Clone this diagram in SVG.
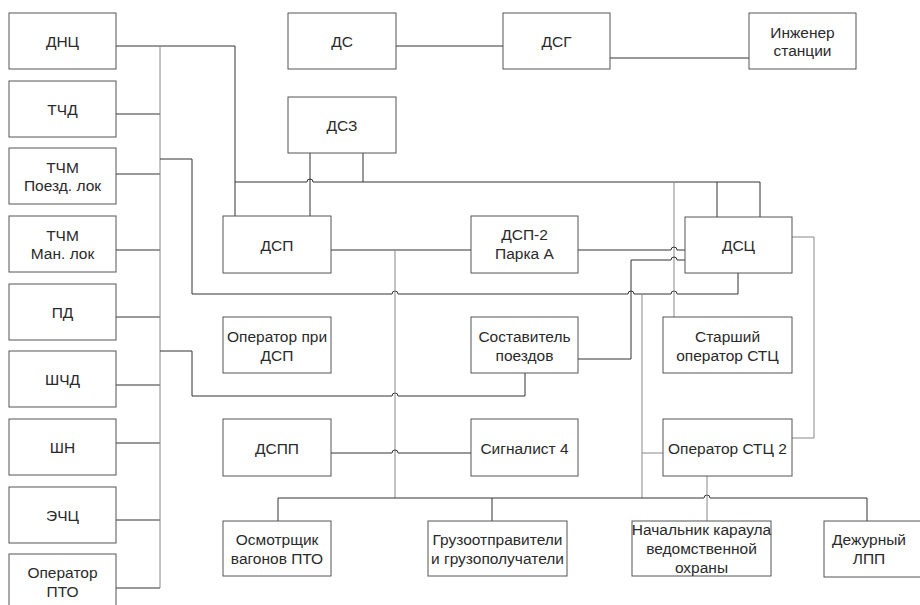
<svg xmlns="http://www.w3.org/2000/svg" width="920" height="605" viewBox="0 0 920 605">
<style>
.b{fill:#fff;stroke:#555;stroke-width:1}
.t{font-family:"Liberation Sans",Arial,sans-serif;font-size:15.5px;fill:#2a2a2a;text-anchor:middle}
.c{fill:none;stroke:#333;stroke-width:1}
.l{fill:none;stroke:#888;stroke-width:1}
</style>
<rect width="920" height="605" fill="#fff"/>
<g id="connectors">
<path class="c" d="M116,46 H235 V216"/>
<path class="c" d="M116,114 H160 M116,174 H160 M116,250 H160 M116,317 H160 M116,385 H160 M116,443 H160 M116,520 H160 M116,588 H160"/>
<path class="l" d="M160,46 V588"/>
<path class="c" d="M160,159 H192 V294 H392 a3,3 0 0 1 6,0 H628 a3,3 0 0 1 6,0 H671 a3,3 0 0 1 6,0 H738 V273"/>
<path class="c" d="M160,351 H192 V396 H392 a3,3 0 0 1 6,0 H525 V373"/>
<path class="c" d="M235,182 H307 a3,3 0 0 1 6,0 H760 V217"/>
<path class="c" d="M363,153 V182 M310,153 V216 M717,182 V217"/>
<path class="l" d="M674,182 V317"/>
<path class="c" d="M331,250 H471"/>
<path class="l" d="M395,250 V498"/>
<path class="c" d="M578,250 H671 a3,3 0 0 1 6,0 H685"/>
<path class="c" d="M578,359 H631 V260 H671 a3,3 0 0 1 6,0 H685"/>
<path class="l" d="M792,237 H814 V438 H792"/>
<path class="l" d="M642,294 V498 M642,453 H663"/>
<path class="c" d="M331,453 H392 a3,3 0 0 1 6,0 H471"/>
<path class="c" d="M278,521 V498 H704 a3,3 0 0 1 6,0 H867 V521 M492,498 V521"/>
<path class="l" d="M707,476 V521"/>
<path class="c" d="M396,46 H503 M610,58 H749"/>
</g>
<g id="dnc"><rect class="b" x="9" y="13" width="107" height="56"/><text class="t" x="62.5" y="46.5">ДНЦ</text></g>
<g id="tchd"><rect class="b" x="9" y="81" width="107" height="56"/><text class="t" x="62.5" y="114.5">ТЧД</text></g>
<g id="tchm1"><rect class="b" x="9" y="148" width="107" height="56"/><text class="t" x="62.5" y="172.5">ТЧМ</text><text class="t" x="62.5" y="190.5">Поезд. лок</text></g>
<g id="tchm2"><rect class="b" x="9" y="216" width="107" height="56"/><text class="t" x="62.5" y="240.5">ТЧМ</text><text class="t" x="62.5" y="258.5">Ман. лок</text></g>
<g id="pd"><rect class="b" x="9" y="284" width="107" height="56"/><text class="t" x="62.5" y="317.5">ПД</text></g>
<g id="shchd"><rect class="b" x="9" y="351" width="107" height="56"/><text class="t" x="62.5" y="384.5">ШЧД</text></g>
<g id="shn"><rect class="b" x="9" y="419" width="107" height="56"/><text class="t" x="62.5" y="452.5">ШН</text></g>
<g id="echc"><rect class="b" x="9" y="487" width="107" height="56"/><text class="t" x="62.5" y="520.5">ЭЧЦ</text></g>
<g id="oppto"><rect class="b" x="9" y="554" width="107" height="60"/><text class="t" x="62.5" y="578">Оператор</text><text class="t" x="62.5" y="597">ПТО</text></g>
<g id="ds"><rect class="b" x="288" y="13" width="108" height="56"/><text class="t" x="342" y="46.5">ДС</text></g>
<g id="dsg"><rect class="b" x="503" y="13" width="107" height="56"/><text class="t" x="556.5" y="46.5">ДСГ</text></g>
<g id="eng"><rect class="b" x="749" y="13" width="107" height="56"/><text class="t" x="802.5" y="37.5">Инженер</text><text class="t" x="802.5" y="55.5">станции</text></g>
<g id="dsz"><rect class="b" x="288" y="97" width="108" height="56"/><text class="t" x="342" y="130.5">ДСЗ</text></g>
<g id="dsp"><rect class="b" x="223" y="216" width="108" height="57"/><text class="t" x="277" y="250.5">ДСП</text></g>
<g id="dsp2"><rect class="b" x="471" y="216" width="107" height="57"/><text class="t" x="524.5" y="239.5">ДСП-2</text><text class="t" x="524.5" y="258.5">Парка А</text></g>
<g id="dsc"><rect class="b" x="685" y="217" width="107" height="56"/><text class="t" x="738.5" y="250.5">ДСЦ</text></g>
<g id="opdsp"><rect class="b" x="223" y="317" width="108" height="56"/><text class="t" x="277" y="341.5">Оператор при</text><text class="t" x="277" y="360.5">ДСП</text></g>
<g id="sost"><rect class="b" x="471" y="317" width="107" height="56"/><text class="t" x="524.5" y="341.5">Составитель</text><text class="t" x="524.5" y="360.5">поездов</text></g>
<g id="stop"><rect class="b" x="663" y="317" width="129" height="56"/><text class="t" x="727.5" y="341.5">Старший</text><text class="t" x="727.5" y="360.5">оператор СТЦ</text></g>
<g id="dspp"><rect class="b" x="223" y="419" width="108" height="57"/><text class="t" x="277" y="453.5">ДСПП</text></g>
<g id="sig"><rect class="b" x="471" y="419" width="107" height="57"/><text class="t" x="524.5" y="453.5">Сигналист 4</text></g>
<g id="opstc2"><rect class="b" x="663" y="419" width="129" height="57"/><text class="t" x="727.5" y="453.5">Оператор СТЦ 2</text></g>
<g id="osm"><rect class="b" x="223" y="521" width="108" height="55"/><text class="t" x="277" y="544.5">Осмотрщик</text><text class="t" x="277" y="563.5">вагонов ПТО</text></g>
<g id="gruz"><rect class="b" x="428" y="521" width="139" height="55"/><text class="t" x="497.5" y="544.5">Грузоотправители</text><text class="t" x="497.5" y="563.5">и грузополучатели</text></g>
<g id="nach"><rect class="b" x="632" y="521" width="139" height="55"/><text class="t" x="701.5" y="534.5">Начальник караула</text><text class="t" x="701.5" y="553.5">ведомственной</text><text class="t" x="701.5" y="572.5">охраны</text></g>
<g id="lpp"><rect class="b" x="824" y="521" width="110" height="56"/><text class="t" x="869" y="544.5">Дежурный</text><text class="t" x="869" y="563.5">ЛПП</text></g>
</svg>
